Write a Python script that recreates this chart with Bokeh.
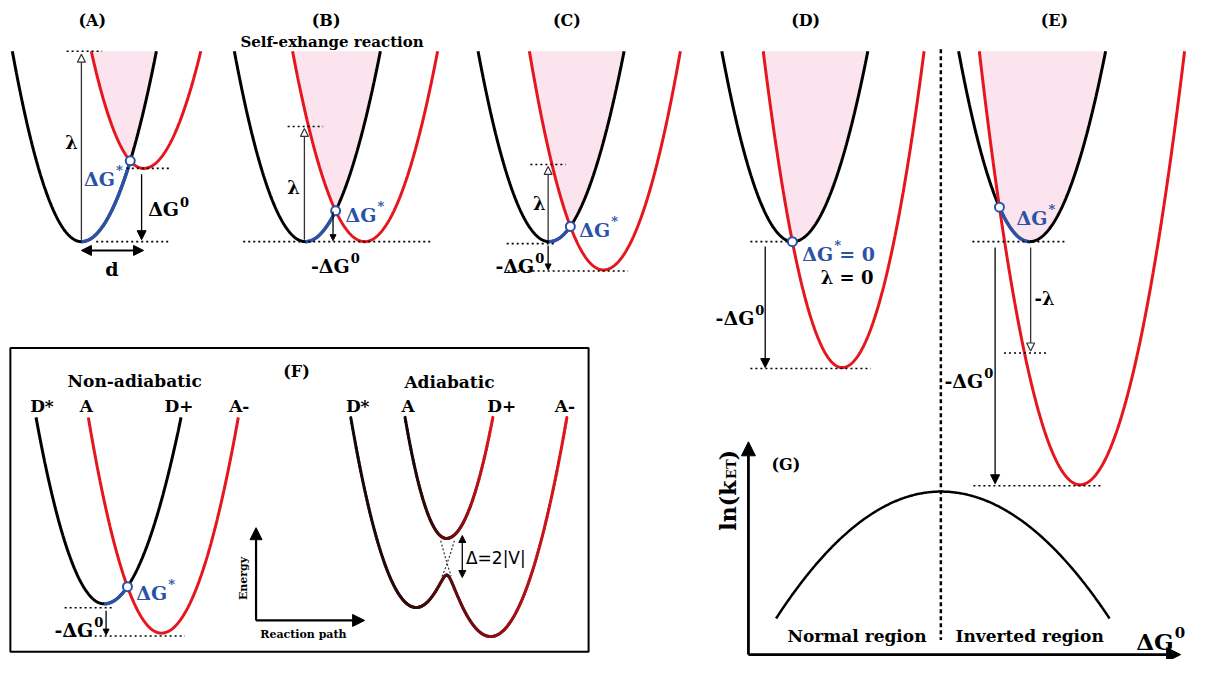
import numpy as np
from bokeh.plotting import figure
from bokeh.models import Range1d, Arrow, NormalHead, Label, ColumnDataSource
from bokeh.embed import file_html
from bokeh.resources import INLINE
from bokeh.core.properties import value

# ---------------- data (reference pixel frame, y grows downward) ----------------
TOP = 52
panel_names = ["(A)", "(B)", "(C)", "(D)", "(E)"]
panel_name_x = [93, 330, 574, 816, 1068]

black_vx = [82, 309, 556, 803, 1043]
black_vy = [247, 247, 247, 247, 247]
black_xl = [12, 237, 484, 731, 971]
black_xr = [158, 385, 632, 879, 1120]
red_vx = [145, 369, 611, 853, 1094]
red_vy = [172, 247, 276, 376, 496]
red_xl = [92, 296, 536, 773, 992]
red_xr = [203, 443, 689, 936, 1200]

# panel F, non-adiabatic wells
F_TOP = 427
fb_well = [105, 618, 36, 183]
fr_well = [163, 648, 89, 241]
# panel F, adiabatic wells (lower left, lower right, upper)
ad_left = [421, 621, 355, 487]
ad_right = [497, 651, 420, 574]
ad_upper = [452, 551, 410, 499]
ad_V = 12

# panel G curve: peak x, peak y, left end x, right end x, end y
g_curve = [953, 503, 786, 1124, 633]

guide_y = [52, 172, 247, 129, 247, 168, 249, 277, 247, 377, 247, 361, 497, 622, 651]
guide_x0 = [67, 128, 97, 291, 246, 537, 513, 514, 760, 760, 985, 1017, 986, 65, 65]
guide_x1 = [103, 172, 172, 327, 438, 573, 563, 636, 800, 882, 1080, 1062, 1117, 113, 187]

arrow_x0 = [82, 143, 82, 308, 337, 555, 555, 775, 1044, 1008, 107, 259, 259, 468, 758, 758]
arrow_y0 = [245, 178, 256, 245, 216, 246, 251, 252, 253, 253, 625, 635, 635, 548, 670, 670]
arrow_x1 = [82, 143, 145, 308, 337, 555, 555, 775, 1044, 1008, 107, 259, 369, 468, 758, 1196]
arrow_y1 = [55, 245, 256, 131, 246, 170, 276, 376, 359, 495, 650, 540, 635, 591, 452, 670]
arrow_kind = ["open", "solid", "double", "open", "small", "open", "small", "solid", "open",
              "solid", "small", "big", "big", "double_s", "axis", "axis"]

RED = "#e5161e"
BLUE = "#2c52a8"
PINK = "#fce4ee"
SERIF = "DejaVu Serif"


def well(x, w, top):
    vx, vy, xl, xr = w
    x = np.asarray(x, dtype=float)
    s = np.where(x < vx, (x - vx) / (xl - vx), (x - vx) / (xr - vx))
    return vy - (vy - top) * s ** 2


p = figure(width=1189, height=659, x_range=Range1d(0, 1205), y_range=Range1d(675, 0),
           output_backend="svg", toolbar_location=None, min_border=0)
p.axis.visible = False
p.grid.visible = False
p.outline_line_color = None

# ---------------- panels A-E ----------------
cross_x, cross_y = [], []
for i in range(5):
    wb = [black_vx[i], black_vy[i], black_xl[i], black_xr[i]]
    wr = [red_vx[i], red_vy[i], red_xl[i], red_xr[i]]
    lo, hi = max(black_xl[i], red_xl[i]), min(black_xr[i], red_xr[i])
    xf = np.linspace(lo, hi, 600)
    yb_f, yr_f = well(xf, wb, TOP), well(xf, wr, TOP)
    p.varea(x=xf, y1=np.full_like(xf, TOP), y2=np.minimum(yb_f, yr_f), fill_color=PINK)
    d = yb_f - yr_f
    k = np.where(np.sign(d[:-1]) != np.sign(d[1:]))[0][0]
    cx = xf[k] - d[k] * (xf[k + 1] - xf[k]) / (d[k + 1] - d[k])
    cy = float(well(cx, wb, TOP))
    cross_x.append(cx)
    cross_y.append(cy)
    xb = np.linspace(black_xl[i], black_xr[i], 400)
    p.line(xb, well(xb, wb, TOP), line_color="black", line_width=3)
    xr = np.linspace(red_xl[i], red_xr[i], 400)
    p.line(xr, well(xr, wr, TOP), line_color=RED, line_width=3)
    a, b = sorted([cx, black_vx[i]])
    xs = np.linspace(a, b, 100)
    p.line(xs, well(xs, wb, TOP), line_color=BLUE, line_width=3.5)

# ---------------- panel F non-adiabatic ----------------
p.quad(left=[10], right=[596], top=[356], bottom=[667], fill_color=None,
       line_color="black", line_width=2)
xb = np.linspace(fb_well[2], fb_well[3], 400)
p.line(xb, well(xb, fb_well, F_TOP), line_color="black", line_width=3)
xr = np.linspace(fr_well[2], fr_well[3], 400)
p.line(xr, well(xr, fr_well, F_TOP), line_color=RED, line_width=3)
xf = np.linspace(fb_well[0], fb_well[3], 500)
d = well(xf, fb_well, F_TOP) - well(xf, fr_well, F_TOP)
k = np.where(np.sign(d[:-1]) != np.sign(d[1:]))[0][0]
fcx = xf[k] - d[k] * (xf[k + 1] - xf[k]) / (d[k + 1] - d[k])
fcy = float(well(fcx, fb_well, F_TOP))
xs = np.linspace(fb_well[0], fcx, 80)
p.line(xs, well(xs, fb_well, F_TOP), line_color=BLUE, line_width=3.5)
cross_x.append(fcx)
cross_y.append(fcy)

p.scatter(cross_x, cross_y, size=9, fill_color="white", line_color=BLUE, line_width=2)


# ---------------- panel F adiabatic (gradient black -> red) ----------------
def grad_color(t):
    t = min(max(t, 0.0), 1.0) ** 1.4
    r = int(round(20 * (1 - t) + 229 * t))
    g = int(round(8 * (1 - t) + 22 * t))
    b = int(round(8 * (1 - t) + 30 * t))
    return "#%02x%02x%02x" % (r, g, b)


xl_ = np.linspace(ad_left[2], ad_right[3], 240)
yL = well(xl_, ad_left, F_TOP)
yR = well(xl_, ad_right, F_TOP)
y_low = (yL + yR) / 2 + np.sqrt(((yL - yR) / 2) ** 2 + ad_V ** 2)
xu = np.linspace(ad_upper[2], ad_upper[3], 120)
y_up = well(xu, ad_upper, F_TOP)
segs_x, segs_y, segs_c = [], [], []
for xx, yy in ((xl_, y_low), (xu, y_up)):
    n = len(xx)
    for j in range(n - 1):
        segs_x.append([xx[j], xx[j + 1]])
        segs_y.append([yy[j], yy[j + 1]])
        segs_c.append(grad_color((xx[j] - xx[0]) / (xx[-1] - xx[0])))
p.multi_line(segs_x, segs_y, line_color=segs_c, line_width=3, line_cap="round")
# dashed diabatic continuations
for w in (ad_left, ad_right):
    xx = np.linspace(440, 465, 200)
    yy = well(xx, w, F_TOP)
    m = (yy > 553) & (yy < 590)
    p.line(xx[m], yy[m], line_color="#333333", line_width=1.2, line_dash="2 2")

# ---------------- panel G ----------------
xg = np.linspace(g_curve[2], g_curve[3], 300)
p.line(xg, well(xg, [g_curve[0], g_curve[1], g_curve[2], g_curve[3]], g_curve[4]),
       line_color="black", line_width=2.5)
p.line([953, 953], [50, 655], line_color="black", line_width=2.5, line_dash="4 3")

# ---------------- dotted guides ----------------
p.multi_line([[a, b] for a, b in zip(guide_x0, guide_x1)], [[y, y] for y in guide_y],
             line_color="black", line_width=1.6, line_dash="2 3")

# ---------------- arrows ----------------
for x0, y0, x1, y1, kind in zip(arrow_x0, arrow_y0, arrow_x1, arrow_y1, arrow_kind):
    lc = "#333333"
    if kind == "open":
        end = NormalHead(size=8, fill_color="white", line_color=lc, line_width=1.2)
        p.add_layout(Arrow(end=end, x_start=x0, y_start=y0, x_end=x1, y_end=y1,
                           line_color=lc, line_width=1.3))
    elif kind in ("solid", "small"):
        sz = 9 if kind == "solid" else 6
        end = NormalHead(size=sz, fill_color="black", line_color="black", line_width=1)
        p.add_layout(Arrow(end=end, x_start=x0, y_start=y0, x_end=x1, y_end=y1,
                           line_color="black", line_width=1.3))
    elif kind in ("double", "double_s"):
        sz = 10 if kind == "double" else 7
        lw = 2 if kind == "double" else 1.3
        p.add_layout(Arrow(start=NormalHead(size=sz, fill_color="black", line_width=1),
                           end=NormalHead(size=sz, fill_color="black", line_width=1),
                           x_start=x0, y_start=y0, x_end=x1, y_end=y1,
                           line_color="black", line_width=lw))
    else:
        sz = 12 if kind == "big" else 14
        lw = 2.2 if kind == "big" else 2.8
        p.add_layout(Arrow(end=NormalHead(size=sz, fill_color="black", line_width=1),
                           x_start=x0, y_start=y0, x_end=x1, y_end=y1,
                           line_color="black", line_width=lw))

# ---------------- texts ----------------
T = dict(x=[], y=[], text=[], size=[], color=[], font=[], style=[], align=[], base=[])


def add(x, y, t, size, color="black", font=SERIF, style="bold", align="center", base="middle"):
    T["x"].append(x)
    T["y"].append(y)
    T["text"].append(t)
    T["size"].append("%dpx" % size)
    T["color"].append(color)
    T["font"].append(font)
    T["style"].append(style)
    T["align"].append(align)
    T["base"].append(base)


for name, x in zip(panel_names, panel_name_x):
    add(x, 20, name, 16)
add(336, 43, "Self-exhange reaction", 15)
add(300, 380, "(F)", 16)
add(796, 475, "(G)", 16)
add(136, 390, "Non-adiabatic", 17)
add(455, 391, "Adiabatic", 17)
for t, x in zip(["D*", "A", "D+", "A-", "D*", "A", "D+", "A-"],
                [42, 87, 181, 242, 362, 413, 508, 572]):
    add(x, 415, t, 17)
add(307, 649, "Reaction path", 11)
add(868, 651, "Normal region", 17)
add(1043, 651, "Inverted region", 17)
add(502, 571, "Δ=2|V|", 17, font="DejaVu Sans", style="normal")
add(113, 275, "d", 19)

for x, y in zip([72, 297, 546], [145, 192, 208]):
    add(x, y, "λ", 18)
add(1058, 305, "-λ", 18)

# black ΔG0 labels: text, split x, baseline y
dg_text = ["ΔG", "-ΔG", "-ΔG", "-ΔG", "-ΔG", "-ΔG"]
dg_x = [181, 354, 541, 764, 996, 94]
dg_y = [214, 272, 272, 325, 390, 645]
for t, x, y in zip(dg_text, dg_x, dg_y):
    add(x, y, t, 19, align="right", base="alphabetic")
    add(x + 1, y - 8, "0", 13, align="left", base="alphabetic")
add(1189, 657, "ΔG", 23, align="right", base="alphabetic")
add(1190, 647, "0", 15, align="left", base="alphabetic")

# blue ΔG* labels
bg_x = [116, 381, 618, 844, 1061, 169]
bg_y = [183, 220, 235, 260, 223, 607]
for x, y in zip(bg_x, bg_y):
    add(x, y, "ΔG", 19, color=BLUE, align="right", base="alphabetic")
    add(x + 1, y - 9, "*", 13, color=BLUE, align="left", base="alphabetic")
add(850, 260, "= 0", 19, color=BLUE, align="left", base="alphabetic")
add(858, 284, "λ = 0", 18, align="center", base="alphabetic")

src = ColumnDataSource(T)
p.text(x="x", y="y", text="text", text_font_size="size", text_color="color",
       text_font="font", text_font_style="style", text_align="align",
       text_baseline="base", source=src)

# rotated texts
rot = dict(angle=np.pi / 2, text_font=SERIF, text_font_style="bold", text_color="black")
p.add_layout(Label(x=246, y=592, text="Energy", text_font_size="11px", text_align="center",
                   text_baseline="middle", **rot))
p.add_layout(Label(x=737, y=543, text="ln(k", text_font_size="22px", text_align="left",
                   text_baseline="alphabetic", **rot))
p.add_layout(Label(x=741, y=490, text="ET", text_font_size="13px", text_align="left",
                   text_baseline="alphabetic", **rot))
p.add_layout(Label(x=737, y=471, text=")", text_font_size="22px", text_align="left",
                   text_baseline="alphabetic", **rot))

open("out.html", "w").write(file_html(p, INLINE))
